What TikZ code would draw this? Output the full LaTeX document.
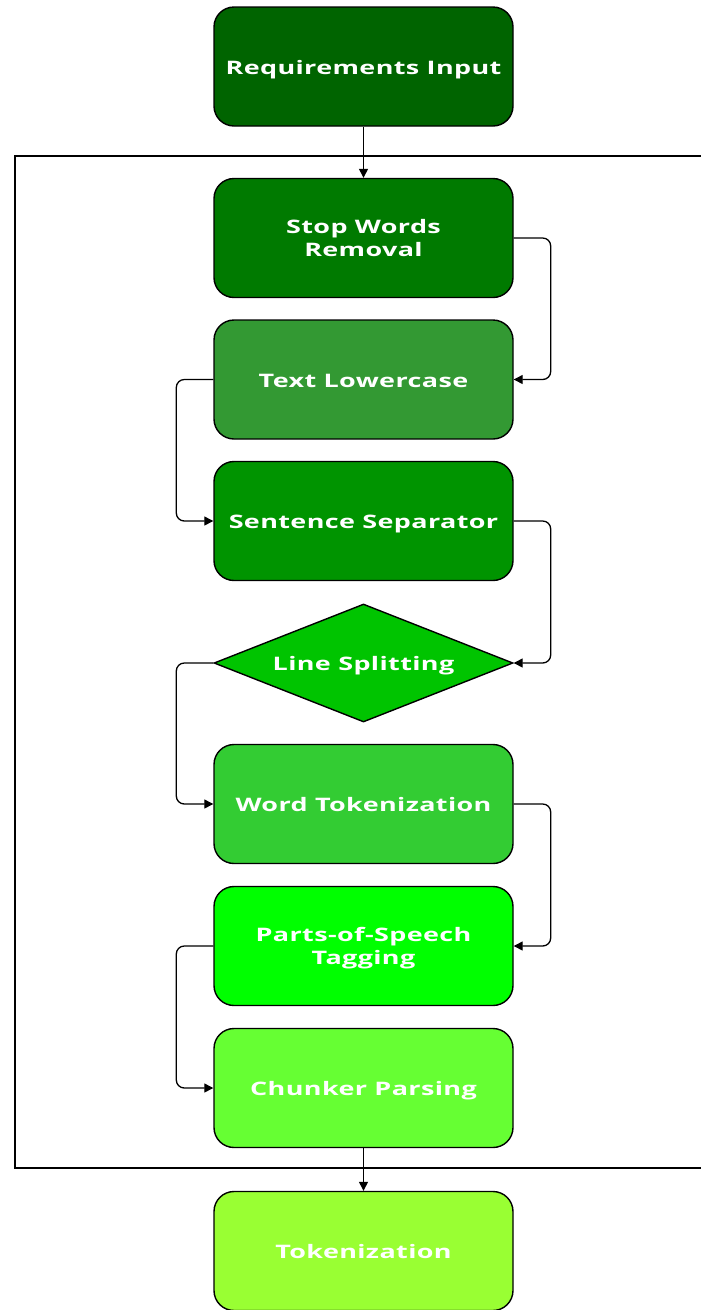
\documentclass[tikz,border=0pt]{standalone}
\usepackage{fontspec}
\newfontfamily\boxfont{Open Sans}[FakeStretch=1.45,LetterSpace=2]
\usetikzlibrary{shapes.geometric,arrows.meta}

\definecolor{gReq}{HTML}{006400}
\definecolor{gStop}{HTML}{007A00}
\definecolor{gLower}{HTML}{339933}
\definecolor{gSent}{HTML}{009400}
\definecolor{gLine}{HTML}{00C400}
\definecolor{gWord}{HTML}{33CC33}
\definecolor{gPos}{HTML}{00FF00}
\definecolor{gChunk}{HTML}{66FF33}
\definecolor{gTok}{HTML}{99FF33}

\tikzset{
  labeltext/.style={inner sep=0pt, align=center, text=white,
    font=\boxfont\bfseries\fontsize{18.6}{23}\selectfont,
    execute at begin node=\rule{0pt}{22pt},
    execute at end node=\rule[-7pt]{0pt}{7pt}},
  twoline/.style={text depth=-1pt},
  stepbox/.style={rectangle, rounded corners=20pt, draw=black, line width=1.4pt,
    minimum width=299pt, minimum height=119pt, labeltext},
  decisionbox/.style={diamond, aspect=2.53, draw=black, line width=1.4pt,
    minimum width=299pt, minimum height=118pt, labeltext},
  conn/.style={draw=black, line width=1.3pt, rounded corners=8pt,
    -{Triangle[length=9pt,width=9pt]}},
  frame/.style={draw=black, line width=1.3pt}
}

\begin{document}
\begin{tikzpicture}[x=1pt,y=-1pt]
  \useasboundingbox (0,0) rectangle (701,1310);

  % processing stage frame, open to the right
  \coordinate (fTR) at (702,156);
  \coordinate (fTL) at (15,156);
  \coordinate (fBL) at (15,1168);
  \coordinate (fBR) at (702,1168);
  \draw[frame] (fTR) -- (fTL) -- (fBL) -- (fBR);

  % pipeline steps
  \node[stepbox, fill=gReq]   (req)   at (363.5,66.5)  {Requirements Input};
  \node[stepbox, twoline, fill=gStop]  (stop)  at (363.5,238)   {Stop Words\\Removal};
  \node[stepbox, fill=gLower] (lower) at (363.5,379.5) {Text Lowercase};
  \node[stepbox, fill=gSent]  (sent)  at (363.5,521)   {Sentence Separator};
  \node[decisionbox, fill=gLine] (line) at (363.5,663) {Line Splitting};
  \node[stepbox, fill=gWord]  (word)  at (363.5,804)   {Word Tokenization};
  \node[stepbox, twoline, fill=gPos]   (pos)   at (363.5,946)   {Parts-of-Speech\\Tagging};
  \node[stepbox, fill=gChunk] (chunk) at (363.5,1088)  {Chunker Parsing};
  \node[stepbox, fill=gTok]   (tok)   at (363.5,1251)  {Tokenization};

  % connectors
  \draw[conn] (req.south) -- (stop.north);
  \draw[conn] (stop.east) -- ++(37,0) |- (lower.east);
  \draw[conn] (lower.west) -- ++(-37,0) |- (sent.west);
  \draw[conn] (sent.east) -- ++(37,0) |- (line.east);
  \draw[conn] (line.west) -- ++(-37,0) |- (word.west);
  \draw[conn] (word.east) -- ++(37,0) |- (pos.east);
  \draw[conn] (pos.west) -- ++(-37,0) |- (chunk.west);
  \draw[conn] (chunk.south) -- (tok.north);
\end{tikzpicture}
\end{document}
